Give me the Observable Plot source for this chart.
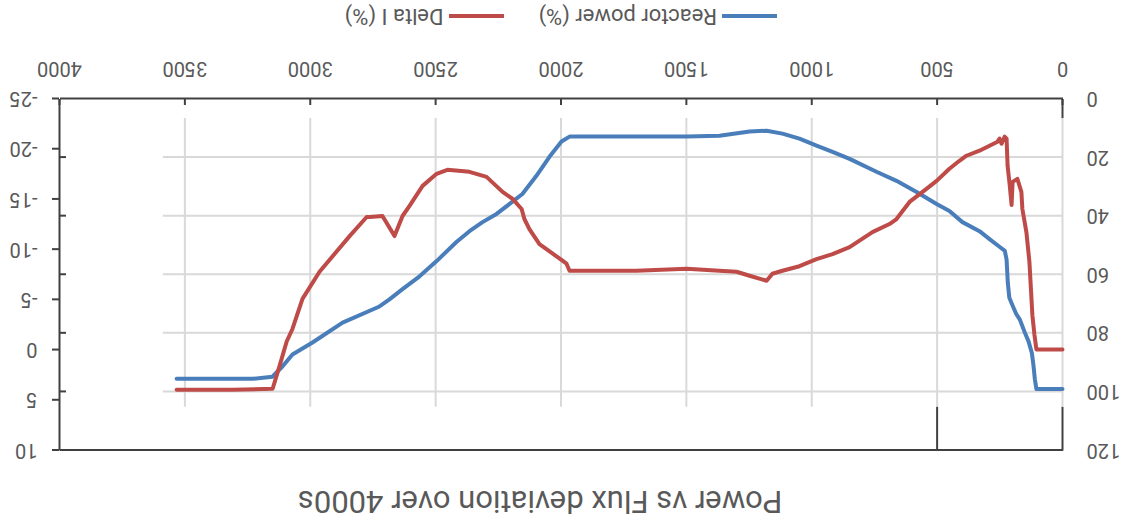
<!DOCTYPE html>
<html><head><meta charset="utf-8">
<script src="https://cdn.jsdelivr.net/npm/d3@7"></script>
<script src="https://cdn.jsdelivr.net/npm/@observablehq/plot@0.6"></script>
<style>
html,body{margin:0;padding:0;background:#fff;}
#chart{position:absolute;left:0;top:0;width:1129px;height:527px;transform:rotate(180deg);transform-origin:50% 50%;font-family:Roboto,sans-serif;color:#595959;background:#fff;overflow:hidden}
#title{position:absolute;top:10px;left:289px;width:600px;text-align:center;font-size:31px;line-height:31px;}
#plot{position:absolute;top:50px;left:0;}
#legend{position:absolute;top:500px;left:352px;display:flex;align-items:center;font-size:22px;line-height:22px;white-space:nowrap}
.sw{display:inline-block;width:55px;height:4px;margin-right:5px}
.gap{display:inline-block;width:35px}
</style></head><body>
<div id="chart"><div id="title"></div><div id="plot"></div><div id="legend"></div></div>
<script>
const titleText = "Power vs Flux deviation over 4000s";
const seriesNames = ["Reactor power (%)", "Delta I (%)"];
const seriesColors = ["#4A7EBB", "#BE4B48"];
const xTicks = [0, 500, 1000, 1500, 2000, 2500, 3000, 3500, 4000];
const powerTicks = [0, 20, 40, 60, 80, 100, 120];
const deltaTicks = [-25, -20, -15, -10, -5, 0, 5, 10];
const innerGridPower = [20, 40, 60, 80, 100];
const innerGridTime = [0, 500, 1000, 1500, 2000, 2500, 3000, 3500];
const innerPlotPower = [6.5, 105.1];
const innerPlotTimeEnd = 3590;

const powerTime = [0,104,110,116,122,135,150,170,185,200,212,218,223,230,250,291,331,399,451,502,582,662,742,849,917,981,1049,1117,1180,1248,1368,1499,1966,1998,2046,2098,2154,2205,2257,2313,2365,2417,2496,2564,2632,2684,2724,2871,2991,3071,3111,3151,3230,3533];
const powerValues = [99.2,99.2,96,91,87,83,80,75.5,73.5,70.5,68,63,55,52,50.7,48,45.3,42.2,38.4,36,31.9,28.1,25,20.6,18.2,16.1,13.7,12,11,11.3,12.7,13,13,14.7,19.9,26.4,32.6,36,39.4,42.2,45.3,49,55.5,60.7,65.1,68.6,71,76.5,83.3,87.4,91.5,95,95.7,95.7];

const deltaTime = [0,104,112,120,132,144,160,164,180,199,203,211,219,223,231,243,251,259,291,331,383,411,451,502,558,610,662,690,758,849,917,981,1049,1117,1157,1180,1248,1300,1368,1499,1699,1966,1978,1994,2058,2086,2126,2146,2157,2193,2233,2297,2365,2453,2496,2552,2604,2632,2664,2712,2763,2775,2843,2963,3031,3071,3094,3122,3150,3310,3533];
const deltaValues = [0,0,-1.5,-3.4,-8.75,-11.7,-14,-15.7,-17,-16.7,-14.4,-16.5,-18.3,-21,-21.2,-20.5,-21,-20.7,-20.3,-19.8,-19.3,-18.8,-18,-16.8,-15.7,-14.7,-13,-12.5,-11.7,-10.2,-9.5,-9,-8.3,-7.85,-7.55,-6.85,-7.35,-7.75,-7.85,-8.05,-7.85,-7.85,-8.55,-8.85,-10,-10.5,-12,-13,-14,-15,-15.7,-17.2,-17.7,-17.9,-17.5,-16.3,-14.3,-13.3,-11.3,-13.3,-13.2,-13.2,-11.3,-7.75,-5.05,-2.05,-0.8,1.6,3.9,4,4];

const powerData = powerTime.map((t, i) => ({t, v: powerValues[i]}));
const deltaData = deltaTime.map((t, i) => ({t, v: deltaValues[i]}));

// secondary axis: map Delta I onto the power scale
const powerDomain = [powerTicks[0], powerTicks[powerTicks.length - 1]];
const deltaDomain = [deltaTicks[0], deltaTicks[deltaTicks.length - 1]];
const d2p = d3.scaleLinear().domain(deltaDomain).range(powerDomain);
const xDomain = [xTicks[0], xTicks[xTicks.length - 1]];

const axisColor = "#404040";
const gridColor = "#d9d9d9";

const chart = Plot.plot({
  width: 1129,
  height: 430,
  marginLeft: 66,
  marginRight: 60,
  marginTop: 26.5,
  marginBottom: 52,
  style: {fontFamily: "Roboto, sans-serif", fontSize: "20px", color: "#595959", background: "transparent", overflow: "visible"},
  x: {domain: xDomain, label: null},
  y: {domain: powerDomain, label: null},
  marks: [
    Plot.ruleX(innerGridTime, {x: d => d, y1: innerPlotPower[0], y2: innerPlotPower[1], stroke: gridColor, strokeWidth: 2}),
    Plot.ruleY(innerGridPower, {y: d => d, x1: xDomain[0], x2: innerPlotTimeEnd, stroke: gridColor, strokeWidth: 2}),
    Plot.ruleY([powerDomain[0]], {x1: xDomain[0], x2: xDomain[1], stroke: axisColor, strokeWidth: 2}),
    Plot.ruleY([powerDomain[1]], {x1: xDomain[0], x2: xDomain[1], stroke: axisColor, strokeWidth: 2}),
    Plot.ruleX([xDomain[1]], {y1: powerDomain[0], y2: powerDomain[1], stroke: axisColor, strokeWidth: 2}),
    Plot.ruleX([xDomain[0]], {y1: powerDomain[0], y2: innerPlotPower[0], stroke: axisColor, strokeWidth: 2}),
    Plot.ruleX([xTicks[0], xTicks[1]], {x: d => d, y1: innerPlotPower[1], y2: powerDomain[1], stroke: axisColor, strokeWidth: 2}),
    Plot.axisX(xTicks, {anchor: "bottom", label: null, tickSize: -6, tickPadding: 28, strokeWidth: 2, stroke: axisColor, fill: "#595959", tickFormat: d => String(d)}),
    Plot.axisY(powerTicks, {anchor: "left", label: null, tickSize: 0, tickPadding: 24, fill: "#595959", tickFormat: d => String(d)}),
    Plot.axisY(deltaTicks.map(d => d2p(d)), {anchor: "right", label: null, tickSize: 7, tickPadding: 15, strokeWidth: 2, stroke: axisColor, fill: "#595959", tickFormat: p => String(Math.round(d2p.invert(p)))}),
    Plot.axisY(innerGridPower, {anchor: "right", label: null, tickSize: -7, tickPadding: 0, strokeWidth: 2, stroke: axisColor, tickFormat: () => ""}),
    Plot.line(powerData, {x: "t", y: "v", stroke: seriesColors[0], strokeWidth: 4, strokeLinejoin: "round", strokeLinecap: "round"}),
    Plot.line(deltaData, {x: "t", y: d => d2p(d.v), stroke: seriesColors[1], strokeWidth: 4, strokeLinejoin: "round", strokeLinecap: "round"})
  ]
});
document.getElementById("plot").appendChild(chart);
document.getElementById("title").textContent = titleText;
const legend = document.getElementById("legend");
seriesNames.forEach((name, i) => {
  if (i > 0) { const g = document.createElement("span"); g.className = "gap"; legend.appendChild(g); }
  const sw = document.createElement("span"); sw.className = "sw"; sw.style.background = seriesColors[i]; legend.appendChild(sw);
  const tx = document.createElement("span"); tx.textContent = name; legend.appendChild(tx);
});
</script></body></html>
